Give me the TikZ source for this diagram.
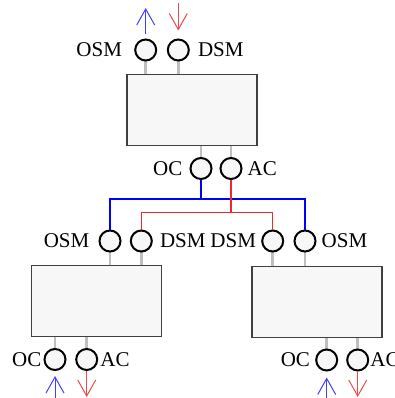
\documentclass[tikz,border=0pt]{standalone}
\usepackage{fontspec}
\setmainfont{Liberation Serif}
\usetikzlibrary{arrows.meta, positioning, backgrounds}

\definecolor{ocblue}{RGB}{0,0,255}
\definecolor{acred}{RGB}{240,40,40}

\begin{document}
\begin{tikzpicture}[x=1pt, y=-1pt, font=\fontsize{21}{24}\selectfont,
  unit/.style={draw=black!75, line width=1.3pt, fill=black!3, minimum width=130pt, minimum height=71pt, inner sep=0pt},
  port/.style={circle, draw, line width=2pt, fill=black!3, minimum size=21pt, inner sep=0pt},
  tag/.style={inner sep=0pt},
  stub/.style={draw=black!25, line width=2.5pt},
  bus/.style={line width=1.3pt},
  flow/.style={-{Straight Barb[length=16pt, width=18pt]}, line width=1pt}]

  \useasboundingbox (0,0) rectangle (395,398);

  % upper unit
  \node[unit] (top) at (192,110) {};
  \node[port] (osm0) at (145.7,50) {};
  \node[port] (dsm0) at (178.3,50) {};
  \node[port] (oc0) at (201,168.5) {};
  \node[port] (ac0) at (231,168.5) {};
  \node[tag, left=12pt of osm0] (osm0txt) {OSM};
  \node[tag, right=8pt of dsm0] (dsm0txt) {DSM};
  \node[tag, left=7pt of oc0] (oc0txt) {OC};
  \node[tag, right=5pt of ac0] (ac0txt) {AC};

  % lower left unit
  \node[unit] (unitL) at (96.7,301.2) {};
  \node[port] (osmL) at (110,241) {};
  \node[port] (dsmL) at (141.3,241) {};
  \node[port] (ocL) at (55,359.5) {};
  \node[port] (acL) at (86.7,359.5) {};
  \node[tag, left=9pt of osmL] (osmLtxt) {OSM};
  \node[tag, right=7pt of dsmL] (dsmLtxt) {DSM};
  \node[tag, left=2pt of ocL] (ocLtxt) {OC};
  \node[tag, right=2pt of acL] (acLtxt) {AC};

  % lower right unit
  \node[unit] (unitR) at (317,302) {};
  \node[port] (dsmR) at (272.7,241) {};
  \node[port] (osmR) at (305,241) {};
  \node[port] (ocR) at (326.7,360) {};
  \node[port] (acR) at (357.7,360) {};
  \node[tag, left=5pt of dsmR] (dsmRtxt) {DSM};
  \node[tag, right=5pt of osmR] (osmRtxt) {OSM};
  \node[tag, left=5pt of ocR] (ocRtxt) {OC};
  \node[tag, right=1pt of acR] (acRtxt) {AC};

  % stubs into the units
  \begin{scope}[on background layer]
    \foreach \p/\u in {osm0/top, dsm0/top, osmL/unitL, dsmL/unitL, dsmR/unitR, osmR/unitR}
      \draw[stub] (\p.center) -- (\p |- \u.north);
    \foreach \p/\u in {oc0/top, ac0/top, ocL/unitL, acL/unitL, ocR/unitR, acR/unitR}
      \draw[stub] (\p.center) -- (\p |- \u.south);
  \end{scope}

  % OC feeds the OSM ports, AC feeds the DSM ports
  \coordinate (ocfork) at (201,199);
  \coordinate (acfork) at (231,212.7);
  \draw[bus, color=ocblue] (oc0.south) -- (ocfork);
  \draw[bus, color=ocblue] (osmL.north) |- (ocfork);
  \draw[bus, color=ocblue] (ocfork) -| (osmR.north);
  \draw[bus, color=acred] (ac0.south) -- (acfork);
  \draw[bus, color=acred] (dsmL.north) |- (acfork);
  \draw[bus, color=acred] (acfork) -| (dsmR.north);

  % outside flows
  \coordinate (osmout) at (145.7,8);
  \coordinate (dsmin) at (178.3,3);
  \coordinate (ocLin) at (55,400);
  \coordinate (acLout) at (86.7,397);
  \coordinate (ocRin) at (326.7,400);
  \coordinate (acRout) at (357.7,397);
  \draw[flow, draw=ocblue!75, shorten <=4pt] (osm0.north) -- (osmout);
  \draw[flow, draw=acred!85, shorten >=8pt] (dsmin) -- (dsm0.north);
  \draw[flow, draw=ocblue!75, shorten >=5pt] (ocLin) -- (ocL.south);
  \draw[flow, draw=acred!85] (acL.south) -- (acLout);
  \draw[flow, draw=ocblue!75, shorten >=6pt] (ocRin) -- (ocR.south);
  \draw[flow, draw=acred!85] (acR.south) -- (acRout);

\end{tikzpicture}
\end{document}
